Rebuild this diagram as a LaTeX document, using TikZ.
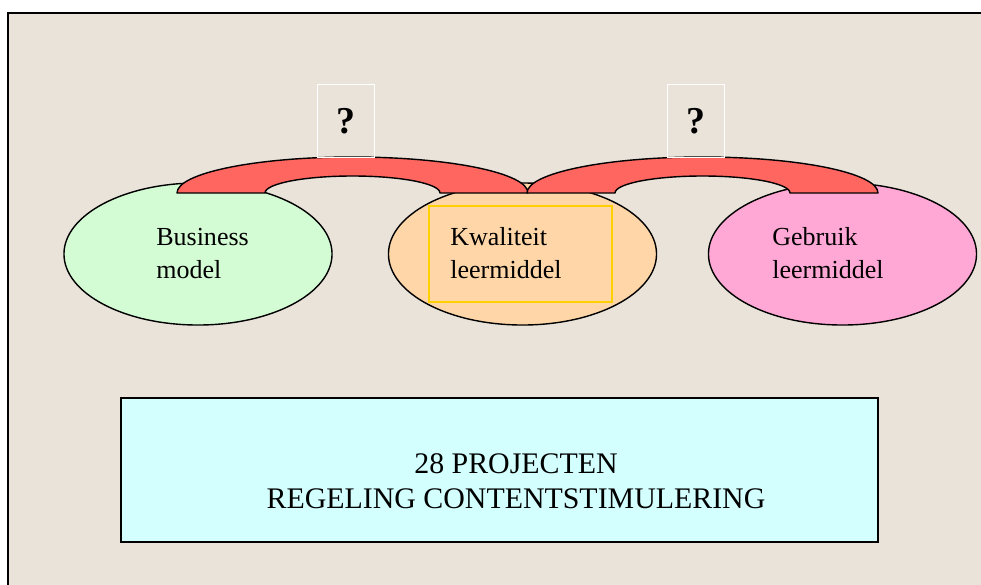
\documentclass[tikz,border=0pt]{standalone}
\usepackage{fontspec}
\setmainfont{Liberation Serif}
\usetikzlibrary{shapes.geometric}
\definecolor{paper}{RGB}{233,227,217}
\definecolor{bizgreen}{RGB}{212,252,212}
\definecolor{kwalorange}{RGB}{255,214,168}
\definecolor{gebrpink}{RGB}{255,168,214}
\definecolor{bridgered}{RGB}{255,102,96}
\definecolor{projcyan}{RGB}{212,255,255}
\definecolor{frameyellow}{RGB}{255,208,0}

\begin{document}
\begin{tikzpicture}[x=0.025cm,y=-0.025cm,
  ell/.style={ellipse,draw,line width=1pt,inner sep=0pt,minimum width=6.7cm,minimum height=3.55cm},
  lbl/.style={anchor=base west,inner sep=0pt,font=\fontsize{18.5pt}{22pt}\selectfont},
  bridge/.style={fill=bridgered,draw,line width=1pt,line join=round},
  qbox/.style={draw=white,line width=0.7pt,minimum width=1.425cm,minimum height=1.8cm,inner sep=0pt,font=\fontsize{27pt}{30pt}\selectfont\bfseries},
  projtext/.style={anchor=base,inner sep=0pt,font=\fontsize{21.25pt}{25pt}\selectfont}]
 \useasboundingbox (0,0) rectangle (981,585);
 \fill[paper] (8,13) rectangle (981,585);
 \draw[line width=1.5pt] (8,585) -- (8,13) -- (981,13);
 % the three topics
 \foreach \nm/\cx/\col/\ta/\tb/\tx in {biz/198/bizgreen/Business/model/156,
    kwal/522.5/kwalorange/Kwaliteit/leermiddel/450,
    gebr/842.5/gebrpink/Gebruik/leermiddel/772}{
   \node[ell,fill=\col] (\nm) at (\cx,254) {};
   \node[lbl] (\nm-a) at (\tx,245) {\ta};
   \node[lbl] (\nm-b) at (\tx,278) {\tb};
 }
 \draw[frameyellow,line width=1pt] (429,206) rectangle (612,302);
 % bridges with question marks on top
 \foreach \bx/\nm in {352.5/q1,702.5/q2}{
   \draw[bridge] (\bx-175.5,193) arc[start angle=180,end angle=360,x radius=175.5,y radius=36]
     -- (\bx+87.5,193) arc[start angle=0,end angle=-180,x radius=87.5,y radius=17] -- cycle;
   \node[qbox] (\nm) at (\bx-7,121) {?};
 }
 % project box
 \node[draw,fill=projcyan,line width=1pt,minimum width=18.925cm,minimum height=3.6cm,inner sep=0pt] (proj) at (499.5,470) {};
 \node[projtext] (proj-a) at (516,473) {28 PROJECTEN};
 \node[projtext] (proj-b) at (516,508) {REGELING CONTENTSTIMULERING};
\end{tikzpicture}
\end{document}
